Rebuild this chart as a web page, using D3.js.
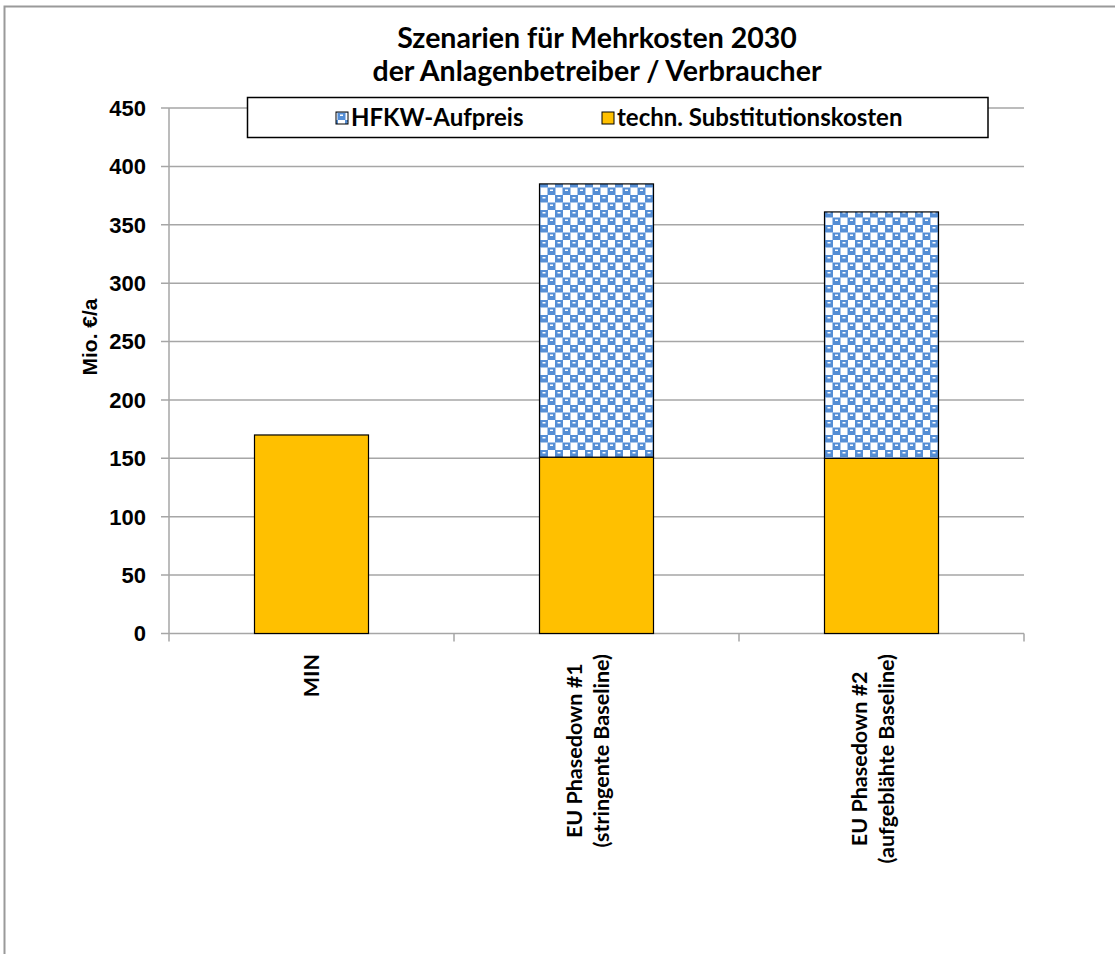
<!DOCTYPE html>
<html>
<head>
<meta charset="utf-8">
<script src="https://cdn.jsdelivr.net/npm/d3@7"></script>
<style>
  html, body { margin: 0; padding: 0; background: #fff; overflow: hidden; }
  svg { display: block; }
</style>
</head>
<body>
<svg id="chart" width="1115" height="954"></svg>
<script>
// Scenario categories (multi-line axis labels)
const categories = [
  ["MIN"],
  ["EU Phasedown #1", "(stringente Baseline)"],
  ["EU Phasedown #2", "(aufgeblähte Baseline)"]
];
// Series values in Mio. €/a
const techCosts = [170, 151, 150];      // techn. Substitutionskosten
const hfkwSurcharge = [0, 234, 211];    // HFKW-Aufpreis
const yTicks = [0, 50, 100, 150, 200, 250, 300, 350, 400, 450];
const seriesNames = ["HFKW-Aufpreis", "techn. Substitutionskosten"];
const titleLines = ["Szenarien für Mehrkosten 2030", "der Anlagenbetreiber / Verbraucher"];
const yTitle = "Mio. €/a";

const svg = d3.select("#chart");
const W = 1115, H = 954;
const plot = { left: 169, right: 1024, top: 108, bottom: 633.5 };

const calibri = "Lato, 'Open Sans', sans-serif";
const arial = "'Liberation Sans', Arial, sans-serif";
const yellow = "#FFC000";
const blue = "#558ed5";
const gridColor = "#a6a6a6";

svg.append("rect").attr("width", W).attr("height", H).attr("fill", "#fff");

// Checker pattern for the HFKW surcharge
const defs = svg.append("defs");
const pat = defs.append("pattern")
  .attr("id", "hfkwPattern")
  .attr("patternUnits", "userSpaceOnUse")
  .attr("width", 15).attr("height", 15);
pat.append("rect").attr("width", 15).attr("height", 15).attr("fill", "#fff");
pat.append("rect").attr("x", 0).attr("y", 0).attr("width", 8).attr("height", 7.5).attr("fill", blue);
pat.append("rect").attr("x", 7.5).attr("y", 7.5).attr("width", 7.5).attr("height", 7.5).attr("fill", blue);
pat.append("rect").attr("x", 0).attr("y", 7.5).attr("width", 0.5).attr("height", 7.5).attr("fill", blue);
pat.append("rect").attr("x", 2.5).attr("y", 2).attr("width", 3).attr("height", 1.5).attr("fill", "#fff");
pat.append("rect").attr("x", 10).attr("y", 9.5).attr("width", 3).attr("height", 1.5).attr("fill", "#fff");

// Chart-area frame
svg.append("rect")
  .attr("x", 4.5).attr("y", 6.5)
  .attr("width", 1300).attr("height", 1300)
  .attr("fill", "none").attr("stroke", "#9a9a9a").attr("stroke-width", 2);

// Scales
const x = d3.scaleBand()
  .domain(d3.range(categories.length))
  .range([plot.left, plot.right])
  .paddingInner(0.6).paddingOuter(0.3);
const y = d3.scaleLinear().domain([0, 450]).range([plot.bottom, plot.top]);

// Gridlines with outer ticks
svg.append("g")
  .selectAll("line")
  .data(yTicks)
  .join("line")
  .attr("x1", plot.left - 8).attr("x2", plot.right)
  .attr("y1", d => y(d)).attr("y2", d => y(d))
  .attr("stroke", gridColor).attr("stroke-width", 1.5);

// Value axis line
svg.append("line")
  .attr("x1", plot.left).attr("x2", plot.left)
  .attr("y1", y(450)).attr("y2", plot.bottom + 8)
  .attr("stroke", gridColor).attr("stroke-width", 1.5);

// Category tick marks
const step = x.step();
svg.append("g")
  .selectAll("line")
  .data(d3.range(1, categories.length + 1))
  .join("line")
  .attr("x1", i => plot.left + i * step).attr("x2", i => plot.left + i * step)
  .attr("y1", plot.bottom).attr("y2", plot.bottom + 8)
  .attr("stroke", gridColor).attr("stroke-width", 1.5);

// Y tick labels
svg.append("g")
  .selectAll("text")
  .data(yTicks)
  .join("text")
  .attr("x", 146).attr("y", d => y(d))
  .attr("dy", "0.36em")
  .attr("text-anchor", "end")
  .attr("font-family", arial).attr("font-weight", "bold").attr("font-size", 22)
  .attr("fill", "#000")
  .text(d => d);

// Stacked bars
const rows = categories.map((c, i) => ({ i, tech: techCosts[i], hfkw: hfkwSurcharge[i] }));
const stack = d3.stack().keys(["tech", "hfkw"])(rows);
const fills = { tech: yellow, hfkw: "url(#hfkwPattern)" };

stack.forEach(layer => {
  svg.append("g")
    .selectAll("rect")
    .data(layer.filter(d => d[1] - d[0] > 0))
    .join("rect")
    .attr("x", d => x(d.data.i))
    .attr("y", d => y(d[1]))
    .attr("width", x.bandwidth())
    .attr("height", d => y(d[0]) - y(d[1]))
    .attr("fill", fills[layer.key])
    .attr("stroke", "#000").attr("stroke-width", 1.2);
});

// Category labels (rotated, lines centred on the longest one)
const catG = svg.append("g");
categories.forEach((lines, i) => {
  const cx = x(i) + x.bandwidth() / 2;
  const lh = 27;
  const g = catG.append("g");
  const texts = lines.map((t, k) => g.append("text")
    .attr("font-family", calibri).attr("font-weight", "bold").attr("font-size", 21.5)
    .attr("fill", "#000")
    .attr("text-anchor", "middle")
    .text(t));
  const maxLen = d3.max(texts, t => t.node().getComputedTextLength());
  const cy = 654 + maxLen / 2;
  const shift = lines.length > 1 ? -8 : 0;
  texts.forEach((t, k) => {
    const bx = cx + 7 + shift + (k - (lines.length - 1) / 2) * lh;
    t.attr("transform", `translate(${bx},${cy}) rotate(-90)`);
  });
});

// Y axis title
svg.append("text")
  .attr("transform", "translate(97,337) rotate(-90)")
  .attr("text-anchor", "middle")
  .attr("font-family", arial).attr("font-weight", "bold").attr("font-size", 21)
  .text(yTitle);

// Title
svg.append("g")
  .selectAll("text")
  .data(titleLines)
  .join("text")
  .attr("x", 597).attr("y", (d, k) => 48 + k * 33)
  .attr("text-anchor", "middle")
  .attr("font-family", calibri).attr("font-weight", "bold").attr("font-size", 28.5)
  .text(d => d);

// Legend
const leg = svg.append("g");
leg.append("rect")
  .attr("x", 247.5).attr("y", 97.5).attr("width", 740.5).attr("height", 40)
  .attr("fill", "#fff").attr("stroke", "#000").attr("stroke-width", 1.5);
const legendFills = ["url(#hfkwPattern)", yellow];
const legendX = [336, 602];
seriesNames.forEach((name, k) => {
  leg.append("rect")
    .attr("x", legendX[k]).attr("y", 112).attr("width", 12).attr("height", 12)
    .attr("fill", legendFills[k]).attr("stroke", "#000").attr("stroke-width", 1);
  leg.append("text")
    .attr("x", legendX[k] + 15).attr("y", 126)
    .attr("font-family", calibri).attr("font-weight", "bold").attr("font-size", 24)
    .text(name);
});
</script>
</body>
</html>
